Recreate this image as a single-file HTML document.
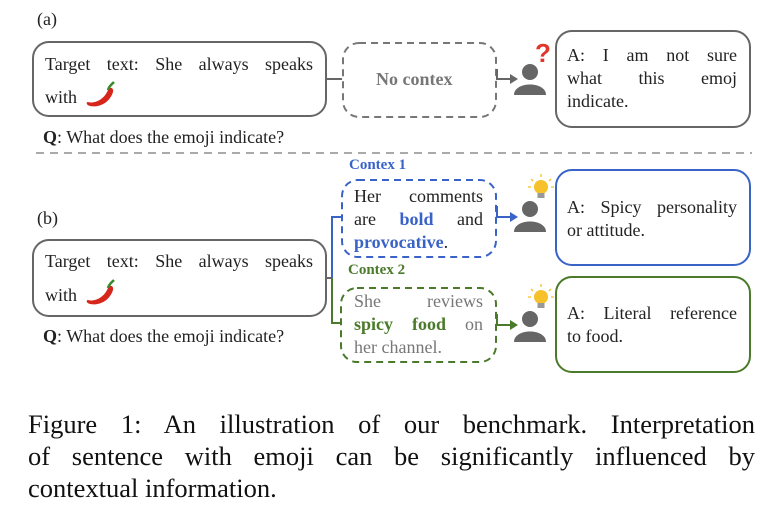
<!DOCTYPE html>
<html><head><meta charset="utf-8"><style>
*{margin:0;padding:0}
body{width:769px;height:518px;background:#fff;position:relative;overflow:hidden;font-family:"Liberation Serif","Times New Roman",Tinos,"DejaVu Serif",serif;color:#222}
.t{position:absolute;font-size:18px;line-height:23px;white-space:nowrap}
.j{text-align:justify;text-align-last:justify;white-space:normal}
.cap{position:absolute;left:28px;width:727px;font-size:26.5px;line-height:32px;color:#111}
</style></head><body>
<svg width="769" height="518" style="position:absolute;left:0;top:0">
<defs>
<g id="chili"><path d="M2,16 C8,18 18,14 22,4 C24,0 28,2 27,6 C24,16 14,22 4,20 C0,19 0,16 2,16Z" fill="#d6261c"/><path d="M22,4 C23,0 26,-2 28,-4" stroke="#3a8a2a" stroke-width="2.5" fill="none"/></g>
<g id="person"><circle cx="0" cy="-9" r="8" fill="#666"/><path d="M-16,14 C-16,0 16,0 16,14 Z" fill="#666"/></g>
<g id="bulb"><circle cx="0" cy="0" r="7" fill="#f6c12b"/><rect x="-3.5" y="6" width="7" height="5" fill="#999"/><g stroke="#f6c12b" stroke-width="1.3"><line x1="0" y1="-10" x2="0" y2="-13"/><line x1="-8" y1="-6" x2="-10" y2="-8"/><line x1="8" y1="-6" x2="10" y2="-8"/><line x1="-10" y1="0" x2="-13" y2="0"/><line x1="10" y1="0" x2="13" y2="0"/></g></g>
</defs>
<rect x="33" y="42" width="293" height="74" rx="16" fill="none" stroke="#666" stroke-width="2"/>
<line x1="326" y1="79" x2="342" y2="79" stroke="#666" stroke-width="2"/>
<rect x="343" y="43" width="153" height="74" rx="16" fill="none" stroke="#777" stroke-width="2" stroke-dasharray="7,5"/>
<path d="M497,69 V79 H512" stroke="#666" stroke-width="2" fill="none"/><path d="M510,74 L518,79 L510,84Z" fill="#666"/>
<use href="#person" x="530" y="81"/>
<text x="535" y="62" font-family="Liberation Sans,sans-serif" font-weight="bold" font-size="26" fill="#e0362c">?</text>
<rect x="556" y="31" width="194" height="96" rx="16" fill="none" stroke="#666" stroke-width="2"/>
<use href="#chili" x="86" y="86"/>
<line x1="36" y1="153" x2="752" y2="153" stroke="#aaa" stroke-width="2" stroke-dasharray="8,6"/>
<rect x="33" y="240" width="293" height="76" rx="16" fill="none" stroke="#666" stroke-width="2"/>
<use href="#chili" x="86" y="284"/>
<line x1="326" y1="278" x2="332" y2="278" stroke="#666" stroke-width="2"/>
<path d="M342,217 H332 V278" stroke="#3a63c8" stroke-width="2" fill="none"/>
<path d="M332,278 V323 H342" stroke="#4a7a2a" stroke-width="2" fill="none"/>
<rect x="342" y="180" width="154" height="77" rx="16" fill="none" stroke="#3a63c8" stroke-width="2" stroke-dasharray="7,5"/>
<rect x="341" y="288" width="155" height="74" rx="16" fill="none" stroke="#4a7a2a" stroke-width="2" stroke-dasharray="7,5"/>
<path d="M497,206 V217 H512" stroke="#3a63c8" stroke-width="2" fill="none"/><path d="M510,212 L518,217 L510,222Z" fill="#3a63c8"/>
<path d="M497,314 V325 H512" stroke="#4a7a2a" stroke-width="2" fill="none"/><path d="M510,320 L518,325 L510,330Z" fill="#4a7a2a"/>
<use href="#person" x="530" y="218"/>
<use href="#person" x="530" y="328"/>
<use href="#bulb" x="541" y="187"/>
<use href="#bulb" x="541" y="297"/>
<rect x="556" y="170" width="194" height="95" rx="16" fill="none" stroke="#3a63c8" stroke-width="2"/>
<rect x="556" y="277" width="194" height="95" rx="16" fill="none" stroke="#4a7a2a" stroke-width="2"/>
</svg>
<div class="t" style="left:37px;top:8px">(a)</div>
<div class="t j" style="left:45px;top:53px;width:268px">Target text: She always speaks</div>
<div class="t" style="left:45px;top:86px">with</div>
<div class="t" style="left:43px;top:126px"><b>Q</b>: What does the emoji indicate?</div>
<div class="t" style="left:376px;top:68px;font-weight:bold;color:#777">No contex</div>
<div class="t j" style="left:567px;top:44px;width:170px">A: I am not sure</div>
<div class="t j" style="left:567px;top:67px;width:170px">what this emoj</div>
<div class="t" style="left:567px;top:90px">indicate.</div>
<div class="t" style="left:37px;top:207px">(b)</div>
<div class="t j" style="left:45px;top:250px;width:268px">Target text: She always speaks</div>
<div class="t" style="left:45px;top:284px">with</div>
<div class="t" style="left:43px;top:325px"><b>Q</b>: What does the emoji indicate?</div>
<div class="t" style="left:349px;top:154px;font-size:15px;font-weight:bold;color:#3a63c8">Contex 1</div>
<div class="t" style="left:348px;top:259px;font-size:15px;font-weight:bold;color:#4a7a2a">Contex 2</div>
<div class="t j" style="left:354px;top:185px;width:129px">Her comments</div>
<div class="t j" style="left:354px;top:208px;width:129px">are <b style="color:#3a63c8">bold</b> and</div>
<div class="t" style="left:354px;top:231px"><b style="color:#3a63c8">provocative</b>.</div>
<div class="t j" style="left:354px;top:290px;width:129px;color:#777">She reviews</div>
<div class="t j" style="left:354px;top:313px;width:129px;color:#777"><b style="color:#4a7a2a">spicy food</b> on</div>
<div class="t" style="left:354px;top:336px;color:#777">her channel.</div>
<div class="t j" style="left:567px;top:196px;width:170px">A: Spicy personality</div>
<div class="t" style="left:567px;top:219px">or attitude.</div>
<div class="t j" style="left:567px;top:302px;width:170px">A: Literal reference</div>
<div class="t" style="left:567px;top:325px">to food.</div>
<div class="cap j" style="top:408px">Figure 1: An illustration of our benchmark. Interpretation</div>
<div class="cap j" style="top:440px">of sentence with emoji can be significantly influenced by</div>
<div class="cap" style="top:472px">contextual information.</div>
</body></html>
